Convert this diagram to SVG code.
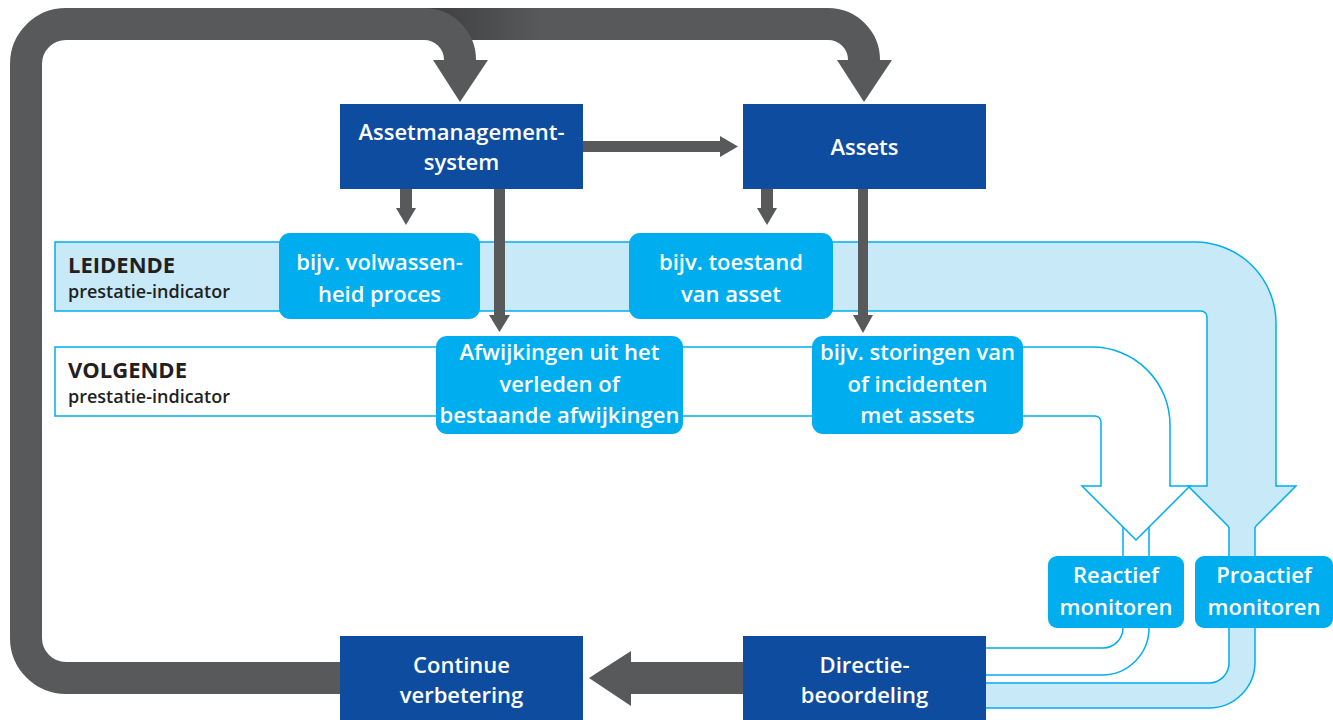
<svg xmlns="http://www.w3.org/2000/svg" width="1333" height="720" viewBox="0 0 1333 720">
<defs>
<linearGradient id="shade" gradientUnits="userSpaceOnUse" x1="400" y1="0" x2="540" y2="0">
<stop offset="0" stop-color="#38383a"/>
<stop offset="1" stop-color="#58595b"/>
</linearGradient>
</defs>
<style>
.g{fill:#58595b}
.gs{fill:none;stroke:#58595b;stroke-width:32}
.db{fill:#0e4c9f}
.cb{fill:#00aeef}
.lb{fill:#c7e9f8;stroke:#00aeef;stroke-width:1.5}
.wb{fill:#ffffff;stroke:#00aeef;stroke-width:1.5}
.ln{fill:none;stroke:#00aeef;stroke-width:1.5}
text{font-family:"Open Sans","Liberation Sans",sans-serif;font-weight:600}
.wt{fill:#ffffff;font-size:22px;text-anchor:middle}
.big{fill:#231f20;font-size:22px;font-weight:700}
.sm{fill:#231f20;font-size:18px}
</style>

<g id="bands">
<path class="lb" d="M55,242 H1195 A81,81 0 0 1 1276,323 V486 H1296 L1242,540 L1188,486 H1207 V317 A6,6 0 0 0 1201,311 H55 Z"/>
<rect x="1229" y="520" width="26" height="36" fill="#c7e9f8"/>
<path class="ln" d="M1229,527 V556 M1255,527 V556"/>
<path class="lb" d="M1229,620 V663 A20,20 0 0 1 1209,683 H960 V708 H1209 A46,46 0 0 0 1255,662 V620 Z"/>
<path class="wb" d="M55,347 H1092 A78,78 0 0 1 1170,425 V486 H1190 L1136,540 L1082,486 H1101 V422 A6,6 0 0 0 1095,416 H55 Z"/>
<path class="ln" d="M1123,527 V556 M1149,527 V556"/>
<path class="ln" d="M1123,620 V628 A20,20 0 0 1 1103,648 H960 M1149,620 V628 A47,47 0 0 1 1102,675 H960"/>
</g>

<g id="connectors">
<path d="M400,24 H828 A36,36 0 0 1 864,60" fill="none" stroke="url(#shade)" stroke-width="32"/>
<polygon class="g" points="837,60 892,60 864,102"/>
<path class="gs" d="M340,678 H66 A40,40 0 0 1 26,638 V64 A40,40 0 0 1 66,24 H424 A36,36 0 0 1 460,60"/>
<polygon class="g" points="433,60 488,60 460,102"/>
<rect class="g" x="583" y="141" width="137" height="11"/>
<polygon class="g" points="720,136 720,157 738,146.5"/>
<rect class="g" x="400" y="189" width="12" height="20"/>
<polygon class="g" points="396,208 416,208 406,225"/>
<rect class="g" x="761" y="189" width="12" height="20"/>
<polygon class="g" points="757,208 777,208 767,225"/>
<rect class="g" x="494" y="189" width="11" height="127"/>
<polygon class="g" points="489,315 510,315 499.5,332"/>
<rect class="g" x="858" y="189" width="10" height="127"/>
<polygon class="g" points="853,315 873,315 863,333"/>
<rect class="g" x="631" y="662" width="112" height="32"/>
<polygon class="g" points="631,651 631,706 589,678"/>
</g>

<g id="label-leidende">
<text class="big" x="68" y="273">LEIDENDE</text>
<text class="sm" x="68" y="298">prestatie-indicator</text>
</g>
<g id="label-volgende">
<text class="big" x="68" y="378">VOLGENDE</text>
<text class="sm" x="68" y="403">prestatie-indicator</text>
</g>

<g id="node-ams">
<rect class="db" x="340" y="104" width="243" height="85"/>
<text class="wt" x="461.5" y="140">Assetmanagement-</text>
<text class="wt" x="461.5" y="170">system</text>
</g>
<g id="node-assets">
<rect class="db" x="743" y="104" width="243" height="85"/>
<text class="wt" x="864.5" y="155">Assets</text>
</g>
<g id="node-volwassenheid">
<rect class="cb" x="279" y="233" width="201" height="86" rx="11"/>
<text class="wt" x="379.5" y="270">bijv. volwassen-</text>
<text class="wt" x="379.5" y="302">heid proces</text>
</g>
<g id="node-toestand">
<rect class="cb" x="629" y="233" width="204" height="86" rx="11"/>
<text class="wt" x="731" y="270">bijv. toestand</text>
<text class="wt" x="731" y="302">van asset</text>
</g>
<g id="node-afwijkingen">
<rect class="cb" x="436" y="336" width="247" height="98" rx="11"/>
<text class="wt" x="559.5" y="360">Afwijkingen uit het</text>
<text class="wt" x="559.5" y="392">verleden of</text>
<text class="wt" x="559.5" y="423">bestaande afwijkingen</text>
</g>
<g id="node-storingen">
<rect class="cb" x="812" y="336" width="211" height="98" rx="11"/>
<text class="wt" x="917.5" y="360">bijv. storingen van</text>
<text class="wt" x="917.5" y="392">of incidenten</text>
<text class="wt" x="917.5" y="423">met assets</text>
</g>
<g id="node-reactief">
<rect class="cb" x="1048" y="556" width="136" height="72" rx="9"/>
<text class="wt" x="1116" y="583">Reactief</text>
<text class="wt" x="1116" y="615">monitoren</text>
</g>
<g id="node-proactief">
<rect class="cb" x="1195" y="556" width="138" height="72" rx="9"/>
<text class="wt" x="1264" y="583">Proactief</text>
<text class="wt" x="1264" y="615">monitoren</text>
</g>
<g id="node-continue">
<rect class="db" x="340" y="636" width="243" height="84"/>
<text class="wt" x="461.5" y="673">Continue</text>
<text class="wt" x="461.5" y="703">verbetering</text>
</g>
<g id="node-directie">
<rect class="db" x="743" y="636" width="243" height="84"/>
<text class="wt" x="864.5" y="673">Directie-</text>
<text class="wt" x="864.5" y="703">beoordeling</text>
</g>
</svg>
